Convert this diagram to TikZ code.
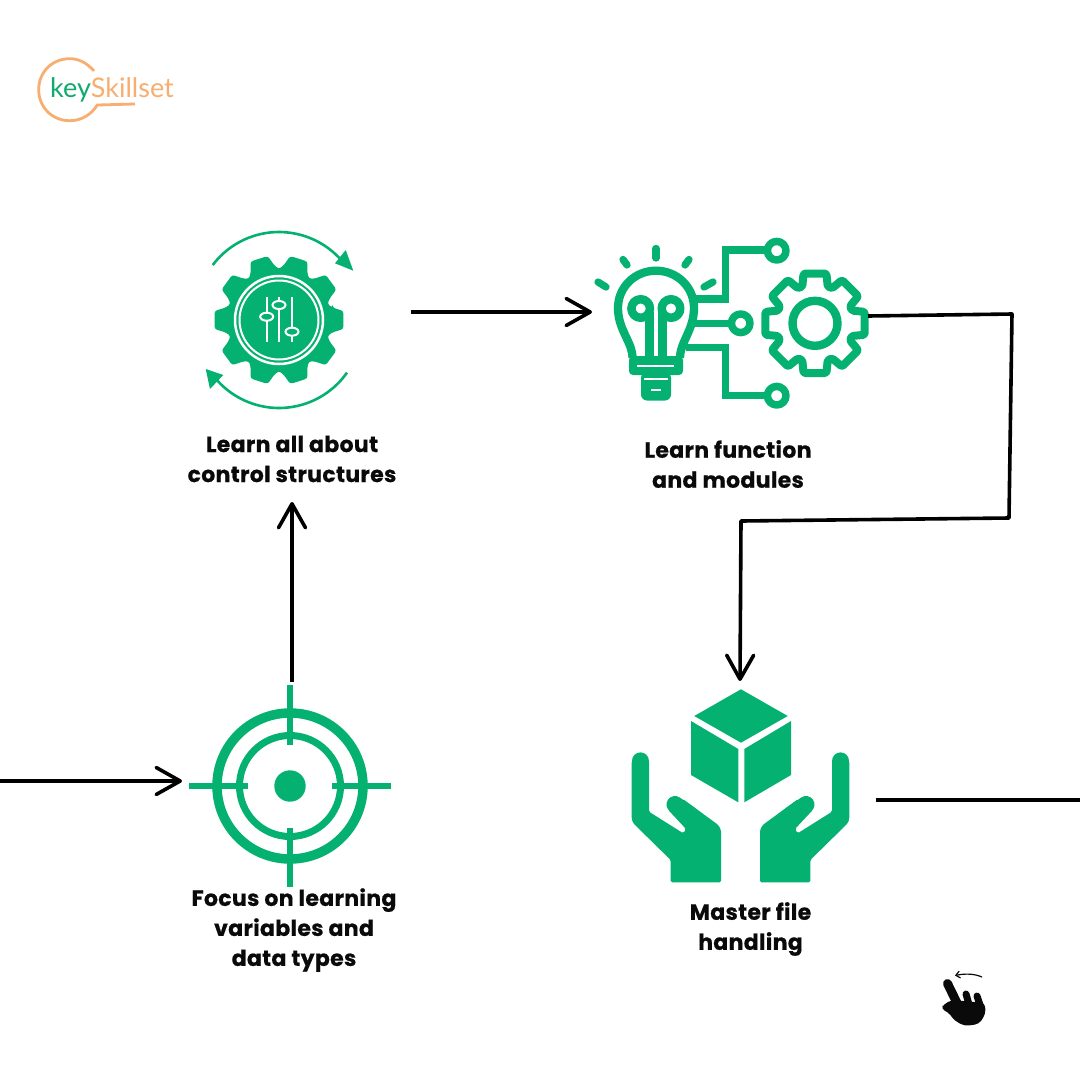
\documentclass[tikz,border=0pt]{standalone}
\usepackage{fontspec}
\setmainfont{Poppins}[BoldFeatures={FakeBold=0.6,LetterSpace=1.5}]
\newfontfamily\logofont{Lato}
\usetikzlibrary{arrows.meta}
\definecolor{brandgreen}{HTML}{05B170}
\definecolor{logogreen}{HTML}{0FAA6E}
\definecolor{logoorange}{HTML}{F8AE70}
\definecolor{inkblack}{HTML}{0A0A0A}
\tikzset{
  hub/.style={inner sep=0pt,outer sep=0pt,minimum width=#1},
  lab/.style={align=center,text=inkblack,font=\fontsize{22pt}{30pt}\selectfont\bfseries,inner sep=0pt,outer sep=0pt},
  link/.style={draw=black,line width=3.6pt,line join=round},
  flow/.style={link,-{Straight Barb[length=24pt,width=27pt,line width=3.6pt,round]}},
  greenline/.style={draw=brandgreen,line width=7.3pt,line cap=round,line join=round},
  thinwhite/.style={draw=white,line width=2.2pt},
}
\newcommand{\handshape}{%
  \fill[brandgreen,rounded corners=1.5pt] (631.7,761)--(649,761)--(649,811.7)--(683.3,833.3)--(686,829)--(668.3,810)--(683.3,799.3)--(718.3,825)--(721,830)--(721,882.3)--(670.7,882.3)--(670.7,860)--(633.3,823.3)--(631.7,819)--cycle;
  \draw[brandgreen,line width=17.3pt,line cap=round] (640.35,761)--(640.35,800);
  \draw[brandgreen,line width=17pt,line cap=round] (675,804.5)--(690,815);
}
\begin{document}
\begin{tikzpicture}[x=1pt,y=-1pt]
\useasboundingbox (0,0) rectangle (1080,1080);
\fill[white] (0,0) rectangle (1080,1080);

% logo
\draw[logoorange,line width=2.8pt] (94,71) .. controls (86,62) and (78,58.7) .. (69.7,58.7) .. controls (52,58.7) and (38.7,72) .. (38.7,89.7) .. controls (38.7,107) and (52,120.7) .. (69.7,120.7) .. controls (81,120.7) and (91,115) .. (97.3,105) -- (135,104);
\node[anchor=base west,inner sep=0pt,font=\logofont\fontsize{27pt}{27pt}\selectfont] (logo) at (50,97.3) {\textcolor{logogreen}{key}\textcolor{logoorange}{Skillset}};

% control-structure icon
\begin{scope}[shift={(279,320)}]
  \fill[brandgreen,rounded corners=2.5pt] (-13:55)
    \foreach \a in {0,36,...,324} { -- (\a-13:55) -- (\a-8:65) -- (\a+8:65) -- (\a+13:55) -- (\a+18:51) } -- cycle;
  \draw[white,line width=2.5pt] (0,0) circle[radius=44];
  \draw[white,line width=2pt] (0,0) circle[radius=39.5];
  \draw[thinwhite] (-12.3,-23)--(-12.3,22);
  \draw[thinwhite] (0,-23)--(0,22);
  \draw[thinwhite] (13,-23)--(13,22);
  \draw[white,fill=brandgreen,line width=2pt] (-12.3,-3.3) ellipse[x radius=6.5,y radius=4];
  \draw[white,fill=brandgreen,line width=2pt] (0,-15) ellipse[x radius=6.5,y radius=4];
  \draw[white,fill=brandgreen,line width=2pt] (13,11.7) ellipse[x radius=6.5,y radius=4];
\end{scope}
\draw[brandgreen,line width=2.6pt] plot[domain=36:143,samples=40,smooth] ({279+83*cos(\x)},{315-83*sin(\x)});
\fill[brandgreen] (353.3,270.7)--(345.7,250)--(335,263.3)--cycle;
\draw[brandgreen,line width=2.6pt] plot[domain=215:325,samples=40,smooth] ({279+83*cos(\x)},{325-83*sin(\x)});
\fill[brandgreen] (205.7,369)--(223.3,375)--(210,389)--cycle;

% bulb icon
\begin{scope}[greenline]
  \draw (656,248.5)--(656,258);
  \draw (623,259.5)--(627,265);
  \draw (689,259.5)--(685,265);
  \draw (598,282)--(606,287);
  \draw (713,282)--(704,287);
  \draw[line width=8.3pt,line cap=butt] (632.5,358) .. controls (632.5,342) and (618,330) .. (618,308) .. controls (618,287) and (635,270.7) .. (656,270.7) .. controls (677,270.7) and (694,287) .. (694,308) .. controls (694,330) and (680,342) .. (680,358);
  \draw[line width=8.5pt] (640.7,308.5) circle[radius=9.3];
  \draw[line width=8.5pt] (671,308.5) circle[radius=9.3];
  \draw[line width=8.5pt,line cap=butt] (649.5,312)--(649.5,358);
  \draw[line width=8.5pt,line cap=butt] (662.3,312)--(662.3,358);
  \draw[line cap=butt,line join=miter] (695,299)--(725.5,299)--(725.5,250)--(765,250);
  \draw[line cap=butt] (695,323.3)--(730,323.3);
  \draw[line cap=butt,line join=miter] (686,347.3)--(725.5,347.3)--(725.5,395.7)--(765,395.7);
  \draw[line width=7.5pt] (776.7,250.7) circle[radius=9.3];
  \draw[line width=7.5pt] (740.7,323.3) circle[radius=9.3];
  \draw[line width=7.5pt] (776.7,395.7) circle[radius=9.3];
\end{scope}
\fill[brandgreen,rounded corners=4pt] (629,356)--(683,356)--(683,375)--(629,375)--cycle;
\fill[brandgreen,rounded corners=6pt] (641,372)--(671,372)--(671,400.5)--(641,400.5)--cycle;
\draw[white,line width=1.6pt] (637,366)--(674,366);
\draw[white,line width=1.6pt] (644,379)--(668,379);
\draw[white,line width=1.6pt] (651,390)--(661,390);

% small gear icon
\begin{scope}[shift={(815,323.3)}]
  \draw[greenline,line width=8pt,rounded corners=1.5pt] (-19:39)
    \foreach \a in {0,45,...,315} { -- (\a-19:39) -- (\a-13:51) -- (\a+13:51) -- (\a+19:39) } -- cycle;
  \draw[brandgreen,line width=8.4pt] (0,0) circle[radius=22.5];
\end{scope}

% target icon
\begin{scope}[shift={(290,786)}]
  \draw[brandgreen,line width=9.5pt] (0,0) circle[radius=73];
  \draw[brandgreen,line width=7pt] (0,0) circle[radius=50.5];
  \fill[brandgreen] (0,0) circle[radius=15.7];
  \draw[brandgreen,line width=6.5pt] (0,-101)--(0,-41) (0,42)--(0,101) (-101,0)--(-42,0) (42,0)--(101,0);
\end{scope}

% package icon
\fill[brandgreen] (741,689.3)--(787.7,716)--(741,742.7)--(694.3,716)--cycle;
\fill[brandgreen] (691,721)--(738.3,749)--(738.3,802.3)--(691,775)--cycle;
\fill[brandgreen] (744.3,749)--(791,721)--(791,775)--(744.3,802.3)--cycle;
\handshape
\begin{scope}[xshift=1481pt,xscale=-1]
\handshape
\end{scope}

% swipe hand
\draw[inkblack,line width=1.2pt,-{Straight Barb[length=4pt,width=7pt]}] (982,977) .. controls (974,973.5) and (965,973.5) .. (955,975.5);
\draw[inkblack,line width=9pt,line cap=round] (947.5,983.5)--(958,1005);
\draw[inkblack,line width=7pt,line cap=round] (966,994)--(970,1008);
\draw[inkblack,line width=7pt,line cap=round] (977,996)--(981,1008);
\fill[inkblack,rounded corners=4pt] (952,1000)--(985,1003)--(985.5,1014)--(979,1024)--(965,1026)--(955,1021)--(948,1012)--(941,1009)--(944,1004)--cycle;

% labels
\node[lab,minimum height=86pt] (control) at (292,459) {Learn all about\\control structures};
\node[lab] (functions) at (728,464) {Learn function\\and modules};
\node[lab] (focus) at (294,930) {Focus on learning\\variables and\\data types};
\node[lab] (files) at (750.5,929) {Master file\\handling};

% invisible connection hubs for the icons
\node[hub=220pt,minimum height=210pt] (target) at (292,787) {};
\node[hub=264pt,minimum height=20pt] (gearhub) at (279,312) {};
\node[hub=276pt,minimum height=20pt] (bulb) at (730,316) {};
\node[hub=272pt,minimum height=238pt] (package) at (740,800) {};
\coordinate (entry) at (0,781);
\coordinate (exit) at (1080,800);
\coordinate (bendA) at (1012,314);
\coordinate (bendB) at (1009,518);
\coordinate (bendC) at (741,521);

% connectors
\draw[flow] (entry) -- (entry -| target.west);
\draw[flow] (target.north) -- (control.south);
\draw[flow] (gearhub.east) -- (gearhub.east -| bulb.west);
\draw[flow] (bulb.east) -- (bendA) -- (bendB) -- (bendC) -- (package.north);
\draw[link] (package.east) -- (exit);
\end{tikzpicture}
\end{document}
